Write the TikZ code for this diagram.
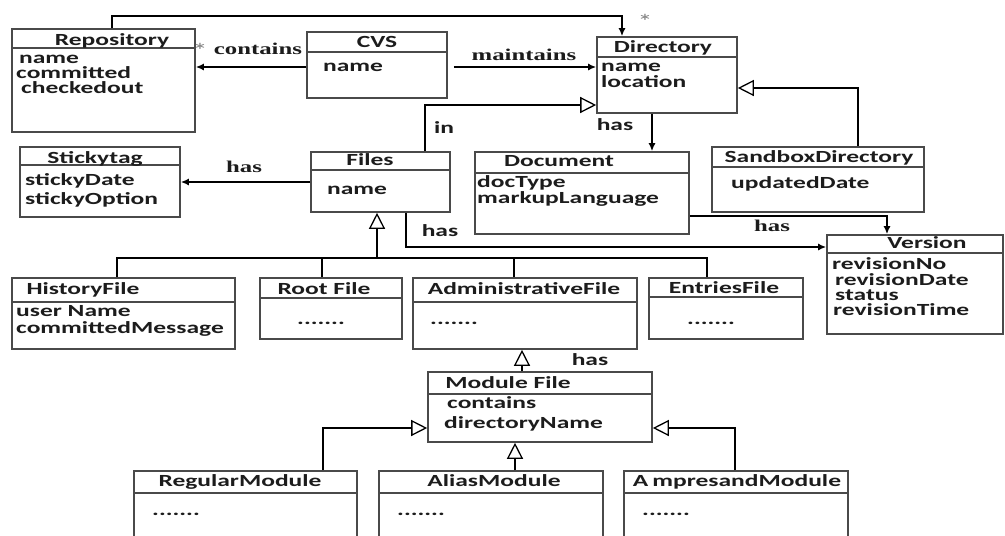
\documentclass[tikz,border=0pt]{standalone}
\usepackage{fontspec}
\setmainfont{Carlito}[FakeStretch=1.5]
\newfontfamily\lblfont{Liberation Serif}[FakeStretch=1.5]
\usetikzlibrary{arrows.meta,fit}
\definecolor{boxgray}{HTML}{4A4A4A}
\definecolor{ink}{HTML}{1C1C1C}
\tikzset{
  x=1pt, y=-1pt,
  cls/.style={draw=boxgray, line width=1.6pt, inner sep=0pt, fill=white},
  sep/.style={draw=boxgray, line width=1.4pt},
  txt/.style={inner sep=0pt, text height=10pt, text depth=2.5pt, text=ink,
    font=\fontsize{17}{15}\selectfont\bfseries},
  attr/.style={txt, anchor=west},
  dots/.style={txt, anchor=base west},
  lbl/.style={inner sep=0pt, text height=10pt, text depth=2.5pt, text=ink,
    font=\lblfont\fontsize{16.5}{15}\selectfont\bfseries},
  star/.style={inner sep=0pt, text=gray, font=\fontsize{20}{20}\selectfont},
  conn/.style={draw=black, line width=2.4pt, line join=miter},
  assoc/.style={conn, -{Latex[length=8pt,width=7pt]}},
  gen/.style={conn, -{Triangle[open,length=16pt,width=16pt,line width=1.3pt,fill=white]}},
}
% class box: name, x1, y1, x2, y2, y of the compartment line
\newcommand{\umlclass}[6]{%
  \node[cls, fit={(#2,#3) (#4,#5)}] (#1) {};
  \coordinate (#1-sep) at (0,#6);
  \draw[sep] (#1.west |- #1-sep) -- (#1.east |- #1-sep);
}
\begin{document}
\begin{tikzpicture}
\clip (0,0) rectangle (1005,536);
\fill[white] (0,0) rectangle (1005,536);

% ---------- classes ----------
\umlclass{repo}{12}{29}{195}{132}{48}
\node[txt] (repo-t) at (112,42) {Repository};
\node[attr] (repo-a1) at (19,60) {name};
\node[attr] (repo-a2) at (16,75) {committed};
\node[attr] (repo-a3) at (21,90) {checkedout};

\umlclass{cvs}{307}{32}{447}{98}{52}
\node[txt] (cvs-t) at (377,44) {CVS};
\node[attr] (cvs-a1) at (323,68) {name};

\umlclass{dir}{597}{37}{737}{113}{57}
\node[txt] (dir-t) at (663,49) {Directory};
\node[attr] (dir-a1) at (601,68) {name};
\node[attr] (dir-a2) at (601,84) {location};

\umlclass{sticky}{20}{147}{180}{217}{165}
\node[txt] (sticky-t) at (95,160) {Stickytag};
\node[attr] (sticky-a1) at (25,182) {stickyDate};
\node[attr] (sticky-a2) at (25,201) {stickyOption};

\umlclass{files}{311}{152}{450}{212}{170}
\node[txt] (files-t) at (370,162) {Files};
\node[attr] (files-a1) at (327,191) {name};

\umlclass{doc}{475}{152}{689}{234}{173}
\node[txt] (doc-t) at (559,163) {Document};
\node[attr] (doc-a1) at (477,184) {docType};
\node[attr] (doc-a2) at (477,200) {markupLanguage};

\umlclass{sbx}{712}{147}{924}{212}{167}
\node[txt] (sbx-t) at (819,159) {SandboxDirectory};
\node[attr] (sbx-a1) at (731,185) {updatedDate};

\umlclass{ver}{827}{235}{1003}{334}{253}
\node[txt] (ver-t) at (927,245) {Version};
\node[attr] (ver-a1) at (832,266) {revisionNo};
\node[attr] (ver-a2) at (835,282) {revisionDate};
\node[attr] (ver-a3) at (835,297) {status};
\node[attr] (ver-a4) at (833,312) {revisionTime};

\umlclass{hist}{12}{278}{235}{349}{302}
\node[txt] (hist-t) at (83,291) {HistoryFile};
\node[attr] (hist-a1) at (16,313) {user Name};
\node[attr] (hist-a2) at (16,330) {committedMessage};

\umlclass{root}{260}{278}{402}{339}{298}
\node[txt] (root-t) at (324,291) {Root File};
\node[dots] (root-d) at (297,324) {.......};

\umlclass{adm}{413}{278}{637}{349}{302}
\node[txt] (adm-t) at (524,291) {AdministrativeFile};
\node[dots] (adm-d) at (430,324) {.......};

\umlclass{entr}{649}{278}{803}{339}{297}
\node[txt] (entr-t) at (724,290) {EntriesFile};
\node[dots] (entr-d) at (687,324) {.......};

\umlclass{mod}{428}{372}{652}{442}{394}
\node[txt] (mod-t) at (508,385) {Module File};
\node[attr] (mod-a1) at (447,405) {contains};
\node[attr] (mod-a2) at (444,425) {directoryName};

\umlclass{reg}{134}{471}{357}{560}{493}
\node[txt] (reg-t) at (240,483) {RegularModule};
\node[dots] (reg-d) at (152,515) {.......};

\umlclass{alias}{379}{471}{603}{560}{493}
\node[txt] (alias-t) at (494,483) {AliasModule};
\node[dots] (alias-d) at (397,515) {.......};

\umlclass{amp}{624}{471}{848}{560}{493}
\node[txt] (amp-t) at (737,483) {A\kern4pt mpresandModule};
\node[dots] (amp-d) at (642,515) {.......};

% ---------- bend points ----------
\coordinate (t1) at (112,16);
\coordinate (t2) at (622,16);
\coordinate (c1) at (0,67);
\coordinate (i1) at (425,105);
\coordinate (h1) at (652,0);
\coordinate (s1) at (858,88);
\coordinate (k1) at (0,182);
\coordinate (d1) at (887,216);
\coordinate (f1) at (406,247);
\coordinate (b0) at (377,258);
\coordinate (bh) at (117,258);
\coordinate (br) at (322,258);
\coordinate (ba) at (514,258);
\coordinate (be) at (707,258);
\coordinate (a1) at (522,0);
\coordinate (r1) at (323,428);
\coordinate (al) at (515,0);
\coordinate (am) at (735,428);

% ---------- associations ----------
\draw[assoc] (repo.north -| t1) -- (t1) -- (t2) -- (dir.north -| t2);
\draw[assoc] (cvs.west |- c1) -- (repo.east |- c1);
\draw[assoc, shorten <=6pt] (cvs.east |- c1) -- (dir.west |- c1);
\draw[assoc] (dir.south -| h1) -- (doc.north -| h1);
\draw[assoc] (files.west |- k1) -- (sticky.east |- k1);
\draw[assoc] (doc.east |- d1) -| (ver.north -| d1);
\draw[assoc] (files.south -| f1) |- (ver.west |- f1);

% ---------- generalizations ----------
\draw[gen] (files.north -| i1) |- (dir.west |- i1);
\draw[gen] (sbx.north -| s1) |- (dir.east |- s1);
\draw[gen] (b0) -- (files.south -| b0);
\draw[conn] (hist.north -| bh) -- (bh) -- (be) -- (entr.north -| be);
\draw[conn] (root.north -| br) -- (br);
\draw[conn] (adm.north -| ba) -- (ba);
\draw[gen] (mod.north -| a1) -- (adm.south -| a1);
\draw[gen, line width=2pt] (reg.north -| r1) |- (mod.west |- r1);
\draw[gen, line width=2pt] (alias.north -| al) -- (mod.south -| al);
\draw[gen, line width=2pt] (amp.north -| am) |- (mod.east |- am);

% ---------- labels ----------
\node[star] (st1) at (200,50) {*};
\node[star] (st2) at (645,21) {*};
\node[lbl] (l-contains) at (258,51) {contains};
\node[lbl] (l-maintains) at (524,57) {maintains};
\node[txt] (l-in) at (444,130) {in};
\node[txt] (l-has1) at (615,127) {has};
\node[lbl] (l-has2) at (244,169) {has};
\node[txt] (l-has3) at (440,233) {has};
\node[lbl] (l-has4) at (772,228) {has};
\node[txt] (l-has5) at (590,362) {has};
\end{tikzpicture}
\end{document}
